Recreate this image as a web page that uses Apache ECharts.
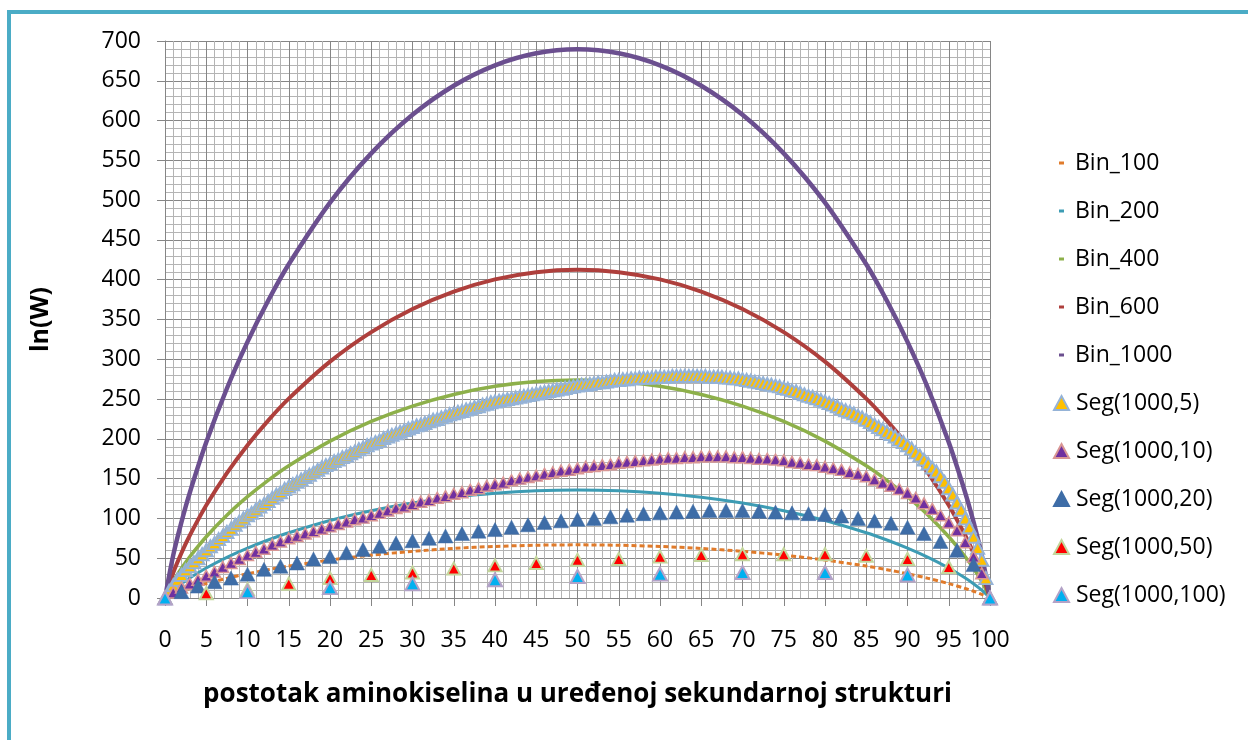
<!DOCTYPE html>
<html>
<head>
<meta charset="utf-8">
<script src="https://cdn.jsdelivr.net/npm/echarts/dist/echarts.min.js"></script>
<style>
html,body{margin:0;padding:0;width:1248px;height:740px;overflow:hidden;background:#fff;}
#chart{position:absolute;left:0;top:0;width:1248px;height:740px;}
#frame{position:absolute;left:7px;top:10px;width:1400px;height:900px;border-left:4px solid #4BACC6;border-top:4px solid #4BACC6;pointer-events:none;}
</style>
</head>
<body>
<div id="chart"></div>
<div id="frame"></div>
<script>
// ---------- data ----------
const binX = [0,1,2,3,5,7.5,10,12.5,15,20,25,30,35,40,45,50,55,60,65,70,75,80,85,87.5,90,92.5,95,97,98,99,100];
const bin100 = [0,4.6,8.5,12.0,18.1,24.7,30.5,35.6,40.1,47.7,53.9,58.6,62.3,64.8,66.3,66.8,66.3,64.8,62.3,58.6,53.9,47.7,40.1,35.6,30.5,24.7,18.1,12.0,8.5,4.6,0];
const bin200 = [0,9.9,18.0,25.1,37.7,51.1,62.7,72.9,82.0,97.4,109.7,119.4,126.7,131.7,134.8,135.8,134.8,131.7,126.7,119.4,109.7,97.4,82.0,72.9,62.7,51.1,37.7,25.1,18.0,9.9,0];
const bin400 = [0,20.8,37.3,51.8,77.0,104.0,127.3,147.9,166.2,197.2,221.9,241.2,255.8,266.0,272.0,274.0,272.0,266.0,255.8,241.2,221.9,197.2,166.2,147.9,127.3,104.0,77.0,51.8,37.3,20.8,0];
const bin600 = [0,31.8,56.7,78.5,116.5,157.0,192.1,223.0,250.5,297.0,334.1,363.2,385.1,400.4,409.5,412.5,409.5,400.4,385.1,363.2,334.1,297.0,250.5,223.0,192.1,157.0,116.5,78.5,56.7,31.8,0];
const bin1000 = [0,53.9,95.6,132.2,195.6,263.3,321.9,373.5,419.4,496.9,558.8,607.3,643.8,669.4,684.5,689.5,684.5,669.4,643.8,607.3,558.8,496.9,419.4,373.5,321.9,263.3,195.6,132.2,95.6,53.9,0];

// Seg series: x steps of 0.5, 1, 2, 5 and 10 percent
const seg5 = [0,9,16,23,29,35,40,45,50,55,60,65,69,74,78,83,87,92,96,100,
104,107,111,115,118,122,126,130,133,137,140,143,146,149,152,155,158,161,164,167,
169,172,174,177,179,182,184,187,189,192,194,196,198,201,203,205,207,209,211,213,
215,217,218,220,222,224,225,227,229,231,232,234,235,237,238,240,241,243,244,246,
247,248,249,250,251,252,253,254,255,256,257,258,259,260,261,262,263,264,265,266,
267,268,268,269,270,271,271,272,273,274,274,275,275,276,276,277,277,277,277,278,
278,278,278,279,279,279,279,279,279,279,279,279,278,278,278,278,277,277,276,276,
275,274,273,272,271,270,269,268,267,266,264,263,261,260,258,256,254,253,251,249,
247,245,243,241,238,236,234,232,229,227,224,221,218,215,212,209,206,203,199,196,
192,188,183,179,174,169,164,159,153,146,138,130,120,111,100,89,77,63,48,25,0];
const seg10 = [0,7,13,18,23,28,33,39,44,49,
54,58,62,67,71,75,78,81,84,87,
90,93,96,99,101,104,107,110,113,115,
118,121,123,126,128,131,133,136,138,141,
143,145,148,150,152,154,156,158,160,161,
163,165,166,167,168,170,171,172,173,174,
175,176,176,177,177,178,178,178,178,177,
177,176,175,175,174,173,171,170,168,167,
165,163,161,158,156,153,149,145,141,137,
132,126,119,112,104,95,85,70,52,31,0];
const seg20 = [0,8,15,20.5,25,30,36,40,44,49,52,57,61,65,69,72,75,78,81,84,86,89,92,95,97,99,100,102,104,106,107,108,109,110,110,110,109,108,107,106,105,103,100,97,94,89,81,71,60,42,0];
const seg50 = [0,6,11,18,25,29,32,37,41,44,48,49,52,54,55,55,55,53,49,39,0];
const seg100 = [0,8,13,18,23,27,30,32,32,29,0];

const binNames = ['Bin_100','Bin_200','Bin_400','Bin_600','Bin_1000'];
const segNames = ['Seg(1000,5)','Seg(1000,10)','Seg(1000,20)','Seg(1000,50)','Seg(1000,100)'];
const xTitle = 'postotak aminokiselina u uređenoj sekundarnoj strukturi';
const yTitle = 'ln(W)';

// ---------- chart ----------
const FONT = '"Open Sans", "Noto Sans", "DejaVu Sans", sans-serif';
const pairs = (xs, ys) => ys.map((v, i) => [xs[i], v]);
const stepPairs = (step, ys) => ys.map((v, i) => [i * step, v]);

function binSeries(name, ys, color, width, dashed) {
  return {
    name: name, type: 'line', data: pairs(binX, ys), smooth: 0.3,
    showSymbol: false, symbol: 'none',
    lineStyle: { color: color, width: width, type: dashed ? [5, 3] : 'solid' },
    itemStyle: { color: color }, z: 2
  };
}
function segSeries(name, step, ys, fill, border, bw, size) {
  return {
    name: name, type: 'scatter', symbol: 'triangle', symbolSize: size,
    data: stepPairs(step, ys),
    itemStyle: { color: fill, borderColor: border, borderWidth: bw, opacity: 1 },
    z: 3
  };
}

const chart = echarts.init(document.getElementById('chart'), null, { renderer: 'canvas' });
const axisCommon = {
  type: 'value',
  axisLine: { show: true, onZero: false, lineStyle: { color: '#868686', width: 1 } },
  axisTick: { show: true, inside: false, length: 8, lineStyle: { color: '#868686', width: 1 } },
  axisLabel: { fontSize: 23, color: '#000', fontFamily: FONT },
  splitLine: { show: true, lineStyle: { color: '#868686', width: 1 } },
  minorTick: { show: false, splitNumber: 5 },
  minorSplitLine: { show: true, lineStyle: { color: '#B4B4B4', width: 1 } },
  nameLocation: 'middle',
  nameTextStyle: { fontSize: 26, fontWeight: 'bold', color: '#000', fontFamily: FONT }
};

chart.setOption({
  animation: false,
  backgroundColor: '#ffffff',
  grid: { left: 165, right: 258, top: 41, bottom: 142 },
  xAxis: Object.assign({}, axisCommon, {
    min: 0, max: 100, interval: 5,
    axisLabel: Object.assign({}, axisCommon.axisLabel, { margin: 31 }),
    name: xTitle, nameGap: 84
  }),
  yAxis: Object.assign({}, axisCommon, {
    min: 0, max: 700, interval: 50,
    axisLabel: Object.assign({}, axisCommon.axisLabel, { margin: 24 }),
    name: yTitle, nameGap: 112,
    nameTextStyle: { fontSize: 25, fontWeight: 'bold', color: '#000', fontFamily: FONT }
  }),
  legend: [
    {
      data: binNames, orient: 'vertical', left: 1059, top: 151, padding: 0,
      icon: 'rect', itemWidth: 5, itemHeight: 3, itemGap: 24,
      textStyle: { fontSize: 23, fontFamily: FONT, color: '#000', lineHeight: 24, padding: [0, 0, 0, 6] }
    },
    {
      data: segNames, orient: 'vertical', left: 1053, top: 391, padding: 0,
      itemWidth: 15, itemHeight: 14, itemGap: 24,
      textStyle: { fontSize: 23, fontFamily: FONT, color: '#000', lineHeight: 24, padding: [0, 0, 0, 2] }
    }
  ],
  series: [
    binSeries('Bin_100', bin100, '#E07B2B', 3, true),
    binSeries('Bin_200', bin200, '#3D9CB4', 3, false),
    binSeries('Bin_400', bin400, '#8DB04A', 3.5, false),
    binSeries('Bin_600', bin600, '#AE3F3C', 4, false),
    binSeries('Bin_1000', bin1000, '#6B4F8F', 4.5, false),
    segSeries('Seg(1000,5)', 0.5, seg5, '#FFC000', '#95B3D7', 2, [13, 12]),
    segSeries('Seg(1000,10)', 1, seg10, '#7030A0', '#D99694', 1.5, [12, 11]),
    segSeries('Seg(1000,20)', 2, seg20, '#3E6DA7', '#3E6DA7', 0.5, [15, 14]),
    segSeries('Seg(1000,50)', 5, seg50, '#FF0000', '#C3D69B', 2, [13, 12]),
    segSeries('Seg(1000,100)', 10, seg100, '#00B0F0', '#B3A2C7', 2, [14, 13])
  ]
});
</script>
</body>
</html>
